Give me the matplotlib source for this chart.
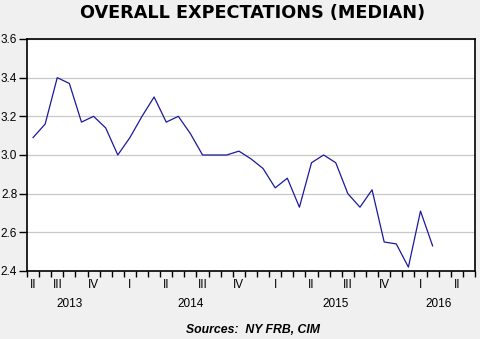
import matplotlib.pyplot as plt
import matplotlib.transforms as mtransforms
import numpy as np

# monthly median expectations, Jun 2013 - Mar 2016
months = ['2013-06', '2013-07', '2013-08', '2013-09', '2013-10', '2013-11', '2013-12',
          '2014-01', '2014-02', '2014-03', '2014-04', '2014-05', '2014-06', '2014-07',
          '2014-08', '2014-09', '2014-10', '2014-11', '2014-12', '2015-01', '2015-02',
          '2015-03', '2015-04', '2015-05', '2015-06', '2015-07', '2015-08', '2015-09',
          '2015-10', '2015-11', '2015-12', '2016-01', '2016-02', '2016-03']
values = [3.09, 3.16, 3.40, 3.37, 3.17, 3.20, 3.14, 3.00, 3.09, 3.20, 3.30, 3.17,
          3.20, 3.11, 3.00, 3.00, 3.00, 3.02, 2.98, 2.93, 2.83, 2.88, 2.73, 2.96,
          3.00, 2.96, 2.80, 2.73, 2.82, 2.55, 2.54, 2.42, 2.71, 2.53]

quarter_labels = ['II', 'III', 'IV', 'I', 'II', 'III', 'IV', 'I', 'II', 'III', 'IV', 'I', 'II']
quarter_pos = [0, 2, 5, 8, 11, 14, 17, 20, 23, 26, 29, 32, 35]
year_labels = ['2013', '2014', '2015', '2016']
year_pos = [3, 13, 25, 33.5]
n_months = 37  # axis runs Jun 2013 - Jun 2016

bg = '#f0f0f0'
fig = plt.figure(figsize=(4.81, 3.39), dpi=100, facecolor=bg)
ax = fig.add_axes([0.0561, 0.2006, 0.9314, 0.6844])
ax.set_facecolor('white')

x = np.arange(len(values))
ax.plot(x, values, color='#1a1a9c', linewidth=0.9)

ax.set_xlim(-0.5, n_months - 0.5)
ax.set_ylim(2.4, 3.6)
ax.set_yticks([2.4, 2.6, 2.8, 3.0, 3.2, 3.4, 3.6])
ax.set_yticklabels(['2.4', '2.6', '2.8', '3.0', '3.2', '3.4', '3.6'])
ax.yaxis.grid(True, color='#c8c8c8', linewidth=0.9)
ax.set_axisbelow(True)

# month boundary ticks, quarter labels in between
ax.set_xticks(np.arange(n_months + 1) - 0.5)
ax.set_xticklabels([])
ax.set_xticks(quarter_pos, minor=True)
ax.set_xticklabels(quarter_labels, minor=True)
ax.tick_params(axis='x', which='major', direction='out', length=4, width=1)
ax.tick_params(axis='x', which='minor', length=0, pad=6, labelsize=8.5)
ax.tick_params(axis='y', direction='out', length=6, width=1, pad=1, labelsize=8.5)

for lab in ax.get_xticklabels(minor=True) + ax.get_yticklabels():
    lab.set_fontfamily('Liberation Sans')

trans = mtransforms.blended_transform_factory(ax.transData, ax.transAxes)
for yl, yp in zip(year_labels, year_pos):
    ax.text(yp, -0.143, yl, transform=trans, ha='center', va='center',
            fontsize=8.5, family='Liberation Sans')

for s in ax.spines.values():
    s.set_color('black')
    s.set_linewidth(1.2)

fig.text(0.525, 0.962, 'OVERALL EXPECTATIONS (MEDIAN)', ha='center', va='center',
         fontsize=12.7, fontweight='bold', family='DejaVu Sans')
fig.text(0.526, 0.026, 'Sources:  NY FRB, CIM', ha='center', va='center',
         fontsize=8.8, fontweight='bold', style='italic', family='Liberation Sans')

fig.savefig('out.png', dpi=100, facecolor=bg)
